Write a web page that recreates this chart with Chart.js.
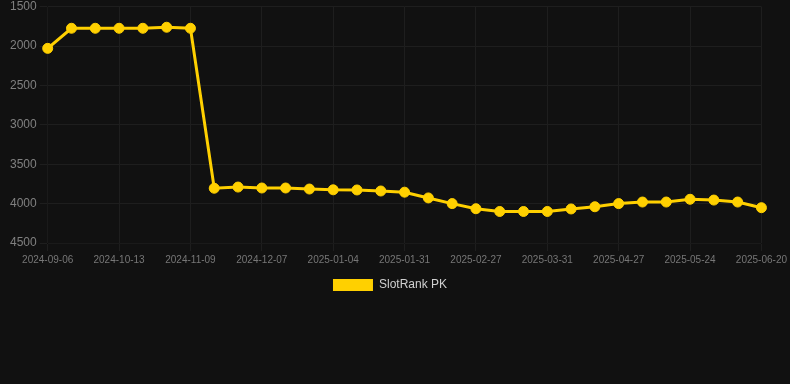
<!DOCTYPE html>
<html>
<head>
<meta charset="utf-8">
<script src="https://cdn.jsdelivr.net/npm/chart.js@4.4.1/dist/chart.umd.min.js"></script>
<style>
    html, body { margin: 0; padding: 0; background: #111111; }
    #wrap { width: 790px; height: 301px; position: relative; }
</style>
</head>
<body>
<div id="wrap"><canvas id="rankChart"></canvas></div>
<script>
// ===== DATA =====
const dates = [
    '2024-09-06', '2024-09-18', '2024-10-01', '2024-10-13', '2024-10-22', '2024-10-31',
    '2024-11-09', '2024-11-18', '2024-11-27', '2024-12-07', '2024-12-16', '2024-12-25',
    '2025-01-04', '2025-01-13', '2025-01-22', '2025-01-31', '2025-02-09', '2025-02-18',
    '2025-02-27', '2025-03-10', '2025-03-21', '2025-03-31', '2025-04-09', '2025-04-18',
    '2025-04-27', '2025-05-06', '2025-05-15', '2025-05-24', '2025-06-02', '2025-06-11',
    '2025-06-20'
];
const rankPK = [
    2030, 1775, 1775, 1775, 1775, 1762, 1775,
    3805, 3790, 3802, 3802, 3815, 3825, 3827, 3840, 3855,
    3928, 4000, 4065, 4100, 4100, 4100, 4068, 4040,
    4000, 3980, 3980, 3945, 3955, 3980, 4052
];
const yTicks = { min: 1500, max: 4500, step: 500 };

// ===== CHART =====
Chart.defaults.font.family = '"Liberation Sans", Arial, sans-serif';

const ctx = document.getElementById('rankChart').getContext('2d');
new Chart(ctx, {
    type: 'line',
    data: {
        labels: dates,
        datasets: [{
            label: 'SlotRank PK',
            data: rankPK,
            borderColor: '#ffd000',
            backgroundColor: '#ffd000',
            pointBackgroundColor: '#ffd000',
            pointBorderColor: '#ffd000',
            borderWidth: 3,
            pointRadius: 5,
            pointBorderWidth: 1,
            tension: 0,
            fill: false
        }]
    },
    options: {
        responsive: true,
        maintainAspectRatio: false,
        animation: false,
        layout: {
            autoPadding: false,
            padding: { left: 7, top: 0, right: 17, bottom: 0 }
        },
        plugins: {
            legend: {
                position: 'bottom',
                labels: {
                    color: '#d0d0d0',
                    font: { size: 12 },
                    boxWidth: 40,
                    boxHeight: 12,
                    // plain filled box, no stroke from the line width
                    generateLabels: chart =>
                        Chart.defaults.plugins.legend.labels.generateLabels(chart)
                            .map(item => ({ ...item, lineWidth: 0 }))
                }
            },
            tooltip: { enabled: false }
        },
        scales: {
            x: {
                ticks: { color: '#777777', font: { size: 10 }, maxRotation: 0, autoSkip: true, maxTicksLimit: 11 },
                grid: { color: '#1e1e1e' }
            },
            y: {
                reverse: true,
                min: yTicks.min,
                max: yTicks.max,
                ticks: {
                    color: '#808080',
                    font: { size: 12, lineHeight: 0.6 },
                    stepSize: yTicks.step,
                    callback: v => String(v)
                },
                grid: { color: '#1e1e1e' }
            }
        }
    }
});
</script>
</body>
</html>
